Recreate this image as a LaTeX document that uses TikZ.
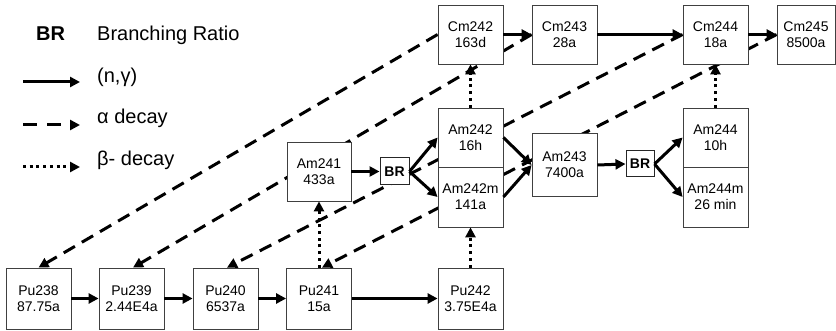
\documentclass[tikz,border=0pt]{standalone}
\usepackage{fontspec}
\setmainfont{Liberation Sans}
\usetikzlibrary{arrows.meta,calc}
\pgfdeclarelayer{bg}
\pgfsetlayers{bg,main}
\begin{document}
\begin{tikzpicture}[x=1pt,y=-1pt,
  nbox/.style={draw=black!75, line width=0.8pt, fill=white, minimum width=65pt, minimum height=59pt, inner sep=0pt, align=center, font=\fontsize{14}{16}\selectfont},
  brbox/.style={draw=black!85, line width=1pt, fill=white, minimum width=29pt, minimum height=27pt, inner sep=0pt, font=\fontsize{14}{16}\selectfont\bfseries},
  ngam/.style={line width=3pt, -{Triangle[length=10pt,width=10pt]}},
  adecay/.style={line width=3pt, dash pattern=on 13pt off 8pt, -{Triangle[length=10pt,width=10pt]}},
  bdecay/.style={line width=3pt, dash pattern=on 3pt off 3.7pt, -{Triangle[length=10pt,width=10pt]}},
  legtxt/.style={anchor=base west, inner sep=0pt, font=\fontsize{20}{24}\selectfont}
]
\useasboundingbox (0,0) rectangle (836,331);

% legend
\node[legtxt, font=\fontsize{20}{24}\selectfont\bfseries] (lbr) at (36,41) {BR};
\node[legtxt] (lbrt) at (97,41) {Branching Ratio};
\node[legtxt] (lng) at (97,83) {(n,γ)};
\node[legtxt] (lal) at (97,124) {α decay};
\node[legtxt] (lbe) at (97,166) {β- decay};
\coordinate (l1a) at (23,82); \coordinate (l1b) at (80,82);
\coordinate (l2a) at (23,125); \coordinate (l2b) at (80,125);
\coordinate (l3a) at (23,167); \coordinate (l3b) at (80,167);
\draw[ngam] (l1a) -- (l1b);
\draw[adecay, dash pattern=on 14pt off 10pt] (l2a) -- (l2b);
\draw[bdecay] (l3a) -- (l3b);

% nodes
\node[nbox, minimum height=61pt] (Pu238) at (38.5,298.5) {Pu238\\87.75a};
\node[nbox, minimum height=61pt] (Pu239) at (131.5,298.5) {Pu239\\2.44E4a};
\node[nbox, minimum height=61pt] (Pu240) at (225.5,298.5) {Pu240\\6537a};
\node[nbox, minimum height=61pt] (Pu241) at (319,298.5) {Pu241\\15a};
\node[nbox, minimum height=61pt] (Pu242) at (470.5,298.5) {Pu242\\3.75E4a};
\node[nbox, minimum width=64pt] (Am241) at (319,171.5) {Am241\\433a};
\node[brbox] (BR1) at (394.5,171.5) {BR};
\node[nbox] (Am242) at (470.5,137.5) {Am242\\16h};
\node[nbox, minimum height=60pt] (Am242m) at (470.5,197) {Am242m\\141a};
\node[nbox, minimum height=63pt] (Am243) at (564.5,165) {Am243\\7400a};
\node[brbox, minimum width=28pt, minimum height=26pt] (BR2) at (640,164) {BR};
\node[nbox] (Am244) at (715.5,137.5) {Am244\\10h};
\node[nbox, minimum height=60pt] (Am244m) at (715.5,197) {Am244m\\26 min};
\node[nbox] (Cm242) at (470.5,34.5) {Cm242\\163d};
\node[nbox] (Cm243) at (564.5,34.5) {Cm243\\28a};
\node[nbox] (Cm244) at (715.5,34.5) {Cm244\\18a};
\node[nbox, minimum width=58pt] (Cm245) at (806,34.5) {Cm245\\8500a};

% alpha decays (behind boxes)
\begin{pgfonlayer}{bg}
\draw[adecay] (Cm242.west) -- (Pu238.north);
\draw[adecay] (Cm243.west) -- ([xshift=1.5pt]Pu239.north);
\draw[adecay] (Cm244.west) -- ([xshift=1.5pt]Pu240.north);
\draw[adecay] (Cm245.west) -- ([xshift=3pt]Pu241.north);
\end{pgfonlayer}

% (n,gamma)
\draw[ngam] (Pu238.east) -- (Pu239.west);
\draw[ngam] (Pu239.east) -- (Pu240.west);
\draw[ngam] (Pu240.east) -- (Pu241.west);
\draw[ngam] (Pu241.east) -- (Pu242.west);
\draw[ngam] (Am241.east) -- (BR1.west);
\draw[ngam] (BR1.east) -- (Am242.west);
\draw[ngam] (BR1.east) -- (Am242m.west);
\draw[ngam] (Am242.east) -- (Am243.west);
\draw[ngam] (Am242m.east) -- (Am243.west);
\draw[ngam] (Am243.east) -- (BR2.west);
\draw[ngam] (BR2.east) -- (Am244.west);
\draw[ngam] (BR2.east) -- (Am244m.west);
\draw[ngam] (Cm242.east) -- (Cm243.west);
\draw[ngam] (Cm243.east) -- (Cm244.west);
\draw[ngam] (Cm244.east) -- (Cm245.west);

% beta decays
\draw[bdecay] (Pu241.north) -- (Am241.south);
\draw[bdecay] (Pu242.north) -- (Am242m.south);
\draw[bdecay] (Am242.north) -- (Cm242.south);
\draw[bdecay] (Am244.north) -- (Cm244.south);
\end{tikzpicture}
\end{document}
